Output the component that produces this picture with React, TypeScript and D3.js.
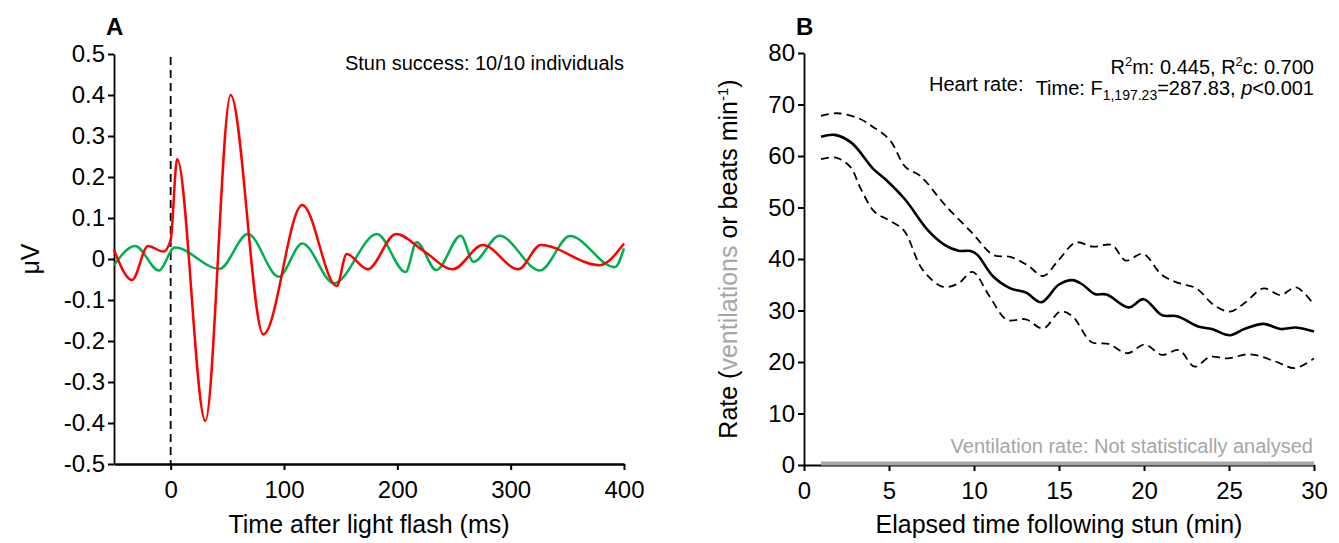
import React, { useEffect, useRef } from "react";
import * as d3 from "d3";

// ---- Panel A: averaged evoked responses, [time after flash (ms), µV]
const stunnedTrace: [number, number][] = [
  [-50, 0.022], [-34, -0.051], [-20, 0.032], [-6.5, 0.018], [0, 0.046],
  [5.7, 0.244], [30.6, -0.395], [52.9, 0.4], [81.8, -0.184], [116.1, 0.132],
  [146.5, -0.066], [155.3, 0.012], [173.8, -0.025], [198.8, 0.061], [223, 0.02],
  [249, -0.025], [275.4, 0.034], [306.8, -0.025], [326.5, 0.034], [378.2, -0.015],
  [400, 0.038],
];
const controlTrace: [number, number][] = [
  [-50, -0.015], [-31.3, 0.032], [-10.4, -0.028], [3.6, 0.028], [43.1, -0.024],
  [68.1, 0.061], [95.4, -0.043], [116.1, 0.038], [144.1, -0.059], [182.1, 0.061],
  [207.3, -0.032], [217, 0.041], [234.4, -0.027], [256, 0.057], [267.2, -0.007],
  [290, 0.057], [325.9, -0.028], [352.3, 0.056], [391.9, -0.02], [400, 0.026],
];
const aYTicks = [0.5, 0.4, 0.3, 0.2, 0.1, 0, -0.1, -0.2, -0.3, -0.4, -0.5];
const aXTicks = [0, 100, 200, 300, 400];

// ---- Panel B: heart rate after stun, [minutes, beats min-1]
const heartMean: [number, number][] = [
  [1, 63.75], [1.81, 64.1], [2.82, 62.5], [4.04, 57.6], [4.85, 55.3], [5.96, 51.5],
  [7.28, 45.6], [8.29, 42.7], [9.1, 41.6], [9.81, 41.55], [10.2, 40.8], [11.13, 36.6],
  [12.14, 34.3], [13.05, 33.5], [13.96, 31.6], [14.98, 35.0], [15.79, 35.9], [16.4, 35.0],
  [17.1, 33.2], [17.8, 33.1], [19.09, 30.6], [19.98, 32.2], [21.05, 29.1], [21.96, 28.9],
  [23.18, 26.9], [23.99, 26.4], [25.06, 25.2], [25.9, 26.4], [27.03, 27.4], [28.04, 26.4],
  [28.95, 26.7], [30, 25.9],
];
const heartUpper: [number, number][] = [
  [1, 67.8], [1.98, 68.3], [3.23, 67.3], [4.04, 65.7], [5.05, 63.1], [5.96, 57.9],
  [6.77, 56.3], [7.18, 55.0], [8.29, 50.5], [9.91, 45.0], [11.13, 40.8], [12.14, 40.4],
  [13.15, 38.8], [14.07, 36.7], [14.98, 39.8], [15.99, 43.2], [17.0, 42.4], [18.12, 42.7],
  [18.92, 39.7], [19.94, 41.0], [21.05, 36.9], [22.06, 35.3], [23.08, 34.3], [24.09, 31.1],
  [25.06, 29.8], [25.9, 31.4], [27.03, 34.3], [28.04, 33.0], [28.95, 34.5], [30, 31.1],
];
const heartLower: [number, number][] = [
  [1, 59.4], [1.88, 59.7], [2.72, 57.9], [3.33, 53.7], [4.14, 49.2], [4.95, 47.6],
  [5.86, 45.6], [6.98, 37.9], [8.19, 34.6], [9.1, 35.3], [9.91, 37.5], [10.92, 32.7],
  [11.94, 28.2], [13.05, 28.3], [14.07, 26.5], [15.08, 29.8], [15.79, 28.9], [16.9, 23.9],
  [17.91, 23.5], [19.03, 21.7], [20.04, 23.4], [21.05, 21.4], [22.06, 22.3], [22.98, 19.1],
  [23.89, 21.0], [24.9, 20.7], [26.22, 21.5], [27.74, 20.1], [28.86, 18.8], [30, 20.7],
];
const ventilation: [number, number][] = [[1, 0.3], [30, 0.3]];
const bYTicks = [0, 10, 20, 30, 40, 50, 60, 70, 80];
const bXTicks = [0, 5, 10, 15, 20, 25, 30];

const W = 1339;
const H = 543;
const FONT = "'Liberation Sans', Arial, Helvetica, sans-serif";
const GREY = "#a6a6a6";

const styleAxis = (g: any, domainW: number) => {
  g.attr("font-family", null).attr("font-size", null);
  g.select(".domain").attr("stroke", "#000").attr("stroke-width", domainW);
  g.selectAll(".tick line").attr("stroke", "#000").attr("stroke-width", 2);
  g.selectAll(".tick text")
    .attr("fill", "#000")
    .style("font-size", "24px")
    .style("font-family", FONT);
};

const App = () => {
  const ref = useRef<SVGSVGElement>(null);

  useEffect(() => {
    document.body.style.margin = "0";
    const svg = d3.select(ref.current);
    svg.selectAll("*").remove();
    svg.attr("width", W).attr("height", H).style("font-family", FONT);

    // ================= Panel A =================
    const xA = d3.scaleLinear().domain([-50, 400]).range([114, 624]);
    const yA = d3.scaleLinear().domain([-0.5, 0.5]).range([464, 54]);

    const gAy = svg.append("g").attr("transform", `translate(${xA(-50)},0)`)
      .call(d3.axisLeft(yA).tickValues(aYTicks).tickSizeOuter(0)
        .tickFormat((d: any) => (d === 0 ? "0" : (+d).toFixed(1))));
    styleAxis(gAy, 1.8);

    const gAx = svg.append("g").attr("transform", `translate(0,${yA(-0.5)})`)
      .call(d3.axisBottom(xA).tickValues(aXTicks).tickSizeOuter(0).tickPadding(11));
    styleAxis(gAx, 2.5);

    // flash onset
    svg.append("line")
      .attr("x1", xA(0)).attr("x2", xA(0))
      .attr("y1", 57).attr("y2", yA(-0.5))
      .attr("stroke", "#000").attr("stroke-width", 1.8)
      .attr("stroke-dasharray", "8,5");

    const lineA = d3.line<[number, number]>()
      .x((d) => xA(d[0])).y((d) => yA(d[1]))
      .curve(d3.curveMonotoneX);

    svg.append("path").datum(controlTrace)
      .attr("d", lineA).attr("fill", "none")
      .attr("stroke", "#00b050").attr("stroke-width", 2.5);
    svg.append("path").datum(stunnedTrace)
      .attr("d", lineA).attr("fill", "none")
      .attr("stroke", "#ff0000").attr("stroke-width", 2.5);

    svg.append("text").attr("x", 106).attr("y", 35)
      .style("font-size", "24px").style("font-weight", "bold").text("A");
    svg.append("text").attr("x", 624).attr("y", 70).attr("text-anchor", "end")
      .style("font-size", "20px").text("Stun success: 10/10 individuals");
    svg.append("text").attr("x", (114 + 624) / 2).attr("y", 533).attr("text-anchor", "middle")
      .style("font-size", "25px").text("Time after light flash (ms)");
    svg.append("text").attr("transform", `translate(39,${yA(0)}) rotate(-90)`)
      .attr("text-anchor", "middle").style("font-size", "25px").text("μV");

    // ================= Panel B =================
    const xB = d3.scaleLinear().domain([0, 30]).range([804, 1314]);
    const yB = d3.scaleLinear().domain([0, 80]).range([465, 53]);

    const gBy = svg.append("g").attr("transform", `translate(${xB(0)},0)`)
      .call(d3.axisLeft(yB).tickValues(bYTicks).tickSizeOuter(0));
    styleAxis(gBy, 1.8);

    const gBx = svg.append("g").attr("transform", `translate(0,${yB(0)})`)
      .call(d3.axisBottom(xB).tickValues(bXTicks).tickSizeOuter(0).tickPadding(11));
    styleAxis(gBx, 2);

    const lineB = d3.line<[number, number]>()
      .x((d) => xB(d[0])).y((d) => yB(d[1]))
      .curve(d3.curveCatmullRom.alpha(0.5));

    svg.append("path").datum(ventilation)
      .attr("d", lineB).attr("fill", "none")
      .attr("stroke", GREY).attr("stroke-width", 4);

    [heartUpper, heartLower].forEach((s) => {
      svg.append("path").datum(s)
        .attr("d", lineB).attr("fill", "none")
        .attr("stroke", "#000").attr("stroke-width", 1.8)
        .attr("stroke-dasharray", "8,5");
    });
    svg.append("path").datum(heartMean)
      .attr("d", lineB).attr("fill", "none")
      .attr("stroke", "#000").attr("stroke-width", 2.6);

    svg.append("text").attr("x", 796).attr("y", 35)
      .style("font-size", "24px").style("font-weight", "bold").text("B");

    // stats annotation
    svg.append("text").attr("x", 929).attr("y", 91)
      .style("font-size", "20px").text("Heart rate:");
    const r2 = svg.append("text").attr("x", 1314).attr("y", 74)
      .attr("text-anchor", "end").style("font-size", "20px");
    r2.append("tspan").text("R");
    r2.append("tspan").attr("dy", -8).style("font-size", "13px").text("2");
    r2.append("tspan").attr("dy", 8).text("m: 0.445, R");
    r2.append("tspan").attr("dy", -8).style("font-size", "13px").text("2");
    r2.append("tspan").attr("dy", 8).text("c: 0.700");

    const tm = svg.append("text").attr("x", 1314).attr("y", 95)
      .attr("text-anchor", "end").style("font-size", "20px");
    tm.append("tspan").text("Time: F");
    tm.append("tspan").attr("dy", 5).style("font-size", "14px").text("1,197.23");
    tm.append("tspan").attr("dy", -5).text("=287.83, ");
    tm.append("tspan").style("font-style", "italic").text("p");
    tm.append("tspan").text("<0.001");

    svg.append("text").attr("x", 1313).attr("y", 453).attr("text-anchor", "end")
      .attr("fill", GREY).style("font-size", "20px")
      .text("Ventilation rate: Not statistically analysed");

    svg.append("text").attr("x", (804 + 1314) / 2).attr("y", 533).attr("text-anchor", "middle")
      .style("font-size", "25px").text("Elapsed time following stun (min)");

    const yl = svg.append("text")
      .attr("transform", `translate(737,${yB(40)}) rotate(-90)`)
      .attr("text-anchor", "middle").style("font-size", "25px");
    yl.append("tspan").text("Rate (");
    yl.append("tspan").attr("fill", GREY).text("ventilations");
    yl.append("tspan").text(" or beats min");
    yl.append("tspan").attr("dy", -9).style("font-size", "15px").text("-1");
    yl.append("tspan").attr("dy", 9).text(")");
  }, []);

  return (
    <div>
      <svg ref={ref}></svg>
    </div>
  );
};

export default App;
